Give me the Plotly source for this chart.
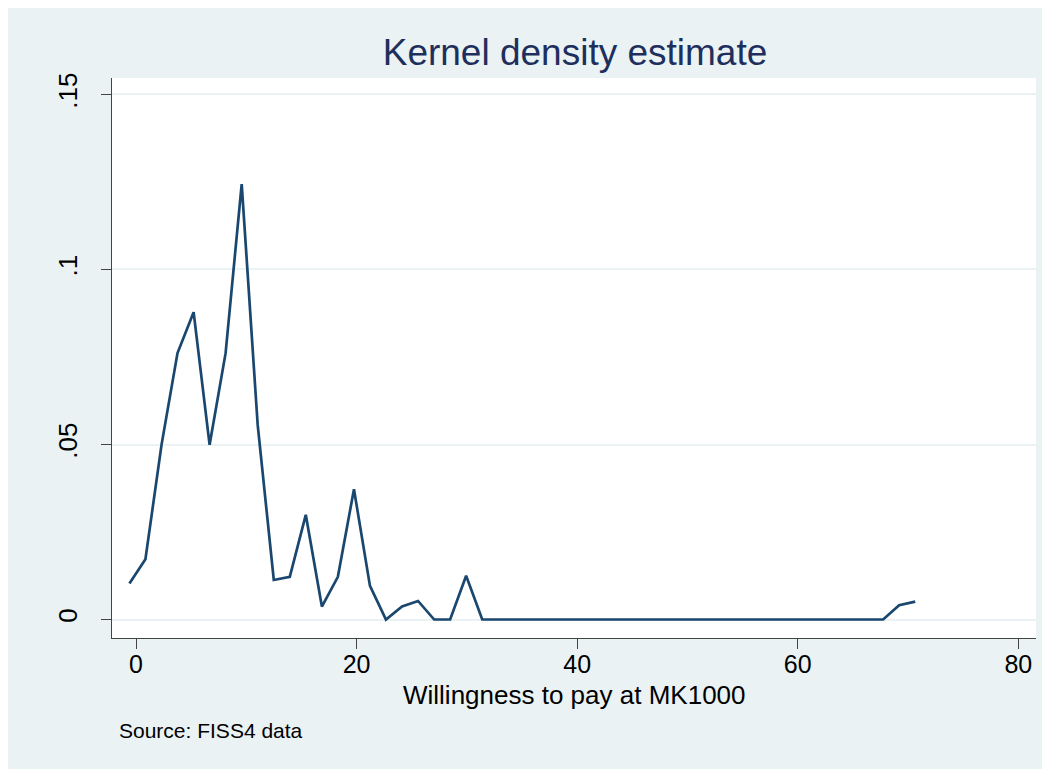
import plotly.graph_objects as go

# Kernel density evaluation grid and density values
wtp_x = [-0.60, 0.85, 2.31, 3.76, 5.22, 6.67, 8.12, 9.58, 11.03, 12.49,
         13.94, 15.39, 16.85, 18.30, 19.76, 21.21, 22.66, 24.12, 25.57, 27.03,
         28.48, 29.93, 31.39, 32.84, 34.30, 35.75, 37.20, 38.66, 40.11, 41.57,
         43.02, 44.47, 45.93, 47.38, 48.84, 50.29, 51.74, 53.20, 54.65, 56.11,
         57.56, 59.01, 60.47, 61.92, 63.38, 64.83, 66.28, 67.74, 69.19, 70.65]
density = [0.0103, 0.0172, 0.0499, 0.0761, 0.0878, 0.0499, 0.0761, 0.1244, 0.0556, 0.0113,
           0.0122, 0.0299, 0.0037, 0.0122, 0.0372, 0.0096, 0.0, 0.0037, 0.0053, 0.0,
           0.0, 0.0125, 0.0, 0.0, 0.0, 0.0, 0.0, 0.0, 0.0, 0.0,
           0.0, 0.0, 0.0, 0.0, 0.0, 0.0, 0.0, 0.0, 0.0, 0.0,
           0.0, 0.0, 0.0, 0.0, 0.0, 0.0, 0.0, 0.0, 0.0041, 0.0051]

x_ticks = [0, 20, 40, 60, 80]
y_ticks = [0, 0.05, 0.1, 0.15]
y_tick_labels = ["0", ".05", ".1", ".15"]

FONT = "Liberation Sans, Arial, sans-serif"
BG = "#EAF2F3"

W, H = 1040, 769
L, R, T, B = 104, 12, 70, 139
PW, PH = W - L - R, H - T - B

fig = go.Figure()
fig.add_trace(go.Scatter(
    x=wtp_x, y=density, mode="lines",
    line=dict(color="#1a476f", width=2.7),
    showlegend=False, hoverinfo="x+y",
))

fig.update_layout(
    width=W, height=H,
    paper_bgcolor=BG, plot_bgcolor="white",
    margin=dict(l=L, r=R, t=T, b=B),
    font=dict(family=FONT, color="black"),
    title=dict(text="Kernel density estimate", x=567 / W, xanchor="center",
               y=1 - 44 / H, yanchor="middle",
               font=dict(family=FONT, size=37, color="#1e2f5e")),
    xaxis=dict(
        range=[-2.18, 81.6], tickvals=x_ticks, ticktext=[str(t) for t in x_ticks],
        showgrid=False, zeroline=False,
        showline=True, linecolor="#444444", linewidth=1.4,
        ticks="outside", ticklen=10, tickcolor="#444444", tickwidth=1.4,
        ticklabelstandoff=-6,
        tickfont=dict(family=FONT, size=25, color="black"),
    ),
    yaxis=dict(
        range=[-0.00528, 0.1547], tickvals=y_ticks, ticktext=y_tick_labels,
        tickangle=-90,
        showgrid=True, gridcolor=BG, gridwidth=1.5, zeroline=False,
        showline=True, linecolor="#444444", linewidth=1.4,
        ticks="outside", ticklen=10, tickcolor="#444444", tickwidth=1.4,
        ticklabelstandoff=13,
        tickfont=dict(family=FONT, size=26, color="black"),
    ),
    annotations=[
        dict(
            text="Willingness to pay at MK1000", xref="paper", yref="paper",
            x=(566 - L) / PW, y=-(687 - (H - B)) / PH, xanchor="center", yanchor="middle",
            showarrow=False, font=dict(family=FONT, size=26, color="black"),
        ),
        dict(
            text="Source: FISS4 data", xref="paper", yref="paper",
            x=(109 - L) / PW, y=-(722 - (H - B)) / PH, xanchor="left", yanchor="middle",
            showarrow=False, font=dict(family=FONT, size=21, color="black"),
        ),
    ],
)

fig.write_html("out.html")
